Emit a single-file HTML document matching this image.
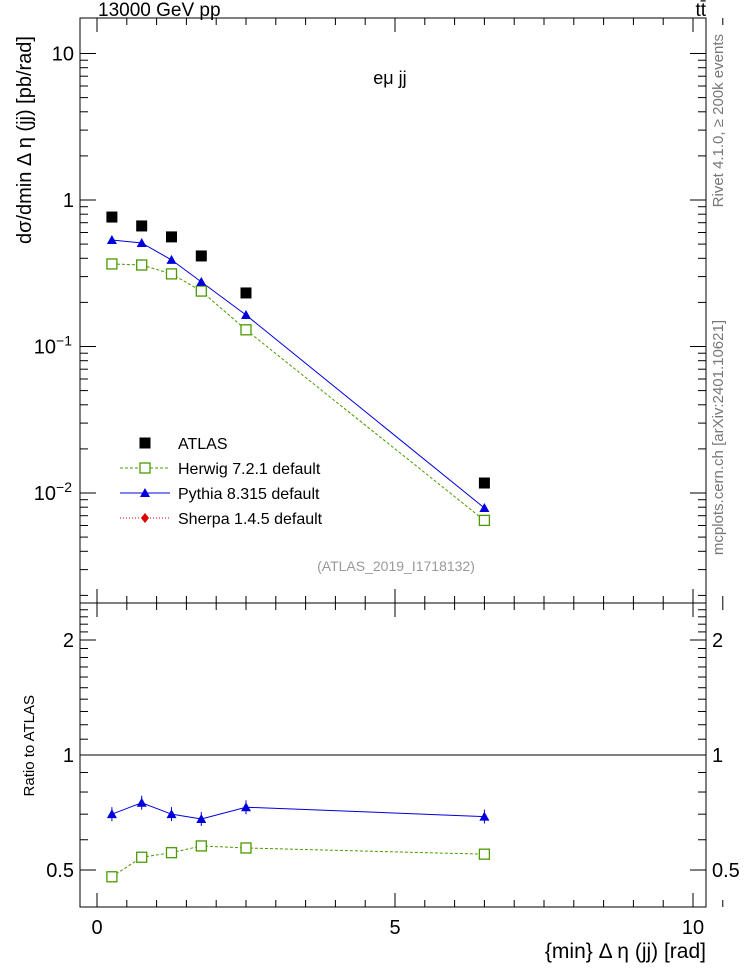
<!DOCTYPE html>
<html><head><meta charset="utf-8"><style>
body{margin:0;background:#fff;font-family:"Liberation Sans",sans-serif}
svg text{font-family:"Liberation Sans","DejaVu Sans",sans-serif}
</style></head><body>
<svg id="c" width="746" height="972" xmlns="http://www.w3.org/2000/svg"></svg>
<script>
const xs=[0.25,0.75,1.25,1.75,2.5,6.5];
const atlas=[0.765,0.665,0.56,0.415,0.232,0.0117];
const pythia=[0.533,0.509,0.39,0.276,0.164,0.0079];
const herwig=[0.366,0.36,0.313,0.239,0.13,0.0065];
const ratioPythia=[0.70,0.75,0.70,0.68,0.73,0.69];
const ratioHerwig=[0.48,0.54,0.555,0.578,0.571,0.55];
const xTicks=[0,5,10];
const yTicks=[10,1,0.1,0.01];
const yTickLabels=["10","1","10^-1","10^-2"];
const rTicks=[2,1,0.5];

const S=document.getElementById('c');const NS='http://www.w3.org/2000/svg';
function el(t,a,txt){const e=document.createElementNS(NS,t);for(const k in a)e.setAttribute(k,a[k]);if(txt!==undefined)e.textContent=txt;S.appendChild(e);return e;}
const L=80,R=706,T=18,M=603,B=907;
const X=v=>97+v*59.6;
const Y=v=>200-Math.log10(v)*146.5;
const RY=v=>755-Math.log2(v)*115;

let f=el('rect',{x:L,y:T,width:R-L,height:M-T,fill:'none',stroke:'#000','stroke-width':1});

f=el('rect',{x:L,y:M,width:R-L,height:B-M,fill:'none',stroke:'#000','stroke-width':1});


for(let v=0;v<=10.5;v+=0.5){const big=Math.abs(v%5)<1e-9;const h=big?14:7;
 for(const [y0,d] of [[M,-1],[T,1],[B,-1],[M,1]]){el('line',{x1:X(v),x2:X(v),y1:y0,y2:y0+d*h,stroke:'#000'});}}
xTicks.forEach(v=>{const t=el('text',{x:X(v),y:934,'font-size':20,'text-anchor':'middle'},String(v));
});
for(let d=-3;d<=1;d++)for(let m=1;m<=9;m++){const v=m*Math.pow(10,d);const y=Y(v);if(y<T||y>M)continue;const h=m==1?16:8;
 el('line',{x1:L,x2:L+h,y1:y,y2:y,stroke:'#000'});el('line',{x1:R,x2:R-h,y1:y,y2:y,stroke:'#000'});}
yTicks.forEach((v,i)=>{const lab=yTickLabels[i];let t;
 if(lab.includes('^')){const p=lab.split('^');t=el('text',{x:72,y:Y(v)+7,'font-size':20,'text-anchor':'end'});
  const a=document.createElementNS(NS,'tspan');a.textContent=p[0];t.appendChild(a);
  const b=document.createElementNS(NS,'tspan');b.setAttribute('dy','-8');b.setAttribute('font-size','14');b.textContent=p[1].replace('-','−');t.appendChild(b);}
 else t=el('text',{x:74,y:Y(v)+7,'font-size':20,'text-anchor':'end'},lab);
 });
for(let v=0.4;v<=2.5;v+=0.1){const y=RY(v);if(y<M||y>B)continue;const big=[0.5,1,2].some(q=>Math.abs(q-v)<1e-6);const h=big?16:8;
 el('line',{x1:L,x2:L+h,y1:y,y2:y,stroke:'#000'});el('line',{x1:R,x2:R-h,y1:y,y2:y,stroke:'#000'});}
rTicks.forEach(v=>{let t=el('text',{x:74,y:RY(v)+7,'font-size':20,'text-anchor':'end'},String(v));

t=el('text',{x:712,y:RY(v)+7,'font-size':20},String(v));});
el('line',{x1:L,x2:R,y1:RY(1),y2:RY(1),stroke:'#000'});

function poly(arr,yf,col,dash,name){const p=el('polyline',{points:xs.map((x,i)=>X(x)+','+yf(arr[i])).join(' '),fill:'none',stroke:col,'stroke-width':1,'stroke-dasharray':dash});
}
poly(herwig,Y,'#4a9a00','3,2','herwig-line');poly(pythia,Y,'#0000dd','','pythia-line');
poly(ratioHerwig,RY,'#4a9a00','3,2','herwig-ratio-line');poly(ratioPythia,RY,'#0000dd','','pythia-ratio-line');
function sq(x,y,name){const r=el('rect',{x:x-5,y:y-5,width:10,height:10,fill:'#fff',stroke:'#4a9a00','stroke-width':1.3});}
function tri(x,y,name){const r=el('polygon',{points:`${x},${y-5} ${x-5},${y+4} ${x+5},${y+4}`,fill:'#0000dd'});}
xs.forEach((x,i)=>{
 const a=el('rect',{x:X(x)-5.5,y:Y(atlas[i])-5.5,width:11,height:11,fill:'#000'});
 sq(X(x),Y(herwig[i]),'herwig-point');tri(X(x),Y(pythia[i]),'pythia-point');
 el('line',{x1:X(x),x2:X(x),y1:RY(ratioPythia[i])-7,y2:RY(ratioPythia[i])+7,stroke:'#0000dd'});
 sq(X(x),RY(ratioHerwig[i]),'herwig-ratio-point');tri(X(x),RY(ratioPythia[i]),'pythia-ratio-point');
});
const lg=[['ATLAS','atlas'],['Herwig 7.2.1 default','herwig'],['Pythia 8.315 default','pythia'],['Sherpa 1.4.5 default','sherpa']];
lg.forEach((e,i)=>{const y=443+i*25;const cx=145;
 if(e[1]=='atlas'){el('rect',{x:cx-5.5,y:y-5.5,width:11,height:11,fill:'#000'});}
 if(e[1]=='herwig'){el('line',{x1:120,x2:170,y1:y,y2:y,stroke:'#4a9a00','stroke-dasharray':'3,2'});sq(cx,y,'legend-herwig-marker');}
 if(e[1]=='pythia'){el('line',{x1:120,x2:170,y1:y,y2:y,stroke:'#0000dd'});tri(cx,y,'legend-pythia-marker');}
 if(e[1]=='sherpa'){el('line',{x1:120,x2:170,y1:y,y2:y,stroke:'#dd0000','stroke-dasharray':'1,2'});el('polygon',{points:`${cx},${y-5} ${cx+4},${y} ${cx},${y+5} ${cx-4},${y}`,fill:'#dd0000'});}
 const t=el('text',{x:178,y:y+6,'font-size':16},e[0]);});
function txt(a,s,name){const t=el('text',a,s);return t;}
txt({x:98,y:16,'font-size':19},'13000 GeV pp','title-energy');
txt({x:706,y:16,'font-size':19,'text-anchor':'end'},'tt̄','title-process');
txt({x:390,y:84,'font-size':18,'text-anchor':'middle'},'eμ jj','panel-label');
txt({x:396,y:571,'font-size':14,fill:'#999','text-anchor':'middle'},'(ATLAS_2019_I1718132)','analysis-id');
txt({x:706,y:958,'font-size':21,'text-anchor':'end'},'{min} Δ η (jj) [rad]','x-axis-title');
txt({x:0,y:0,'font-size':20,'text-anchor':'end',transform:'translate(31,36) rotate(-90)'},'dσ/dmin Δ η (jj) [pb/rad]','y-axis-title');
txt({x:0,y:0,'font-size':15,'text-anchor':'end',transform:'translate(34,695) rotate(-90)'},'Ratio to ATLAS','ratio-axis-title');
txt({x:0,y:0,'font-size':15,fill:'#777','text-anchor':'end',transform:'translate(723,34) rotate(-90)'},'Rivet 4.1.0, ≥ 200k events','rivet-label');
txt({x:0,y:0,'font-size':15,fill:'#777','text-anchor':'end',transform:'translate(723,320) rotate(-90)'},'mcplots.cern.ch [arXiv:2401.10621]','mcplots-label');
</script></body></html>
